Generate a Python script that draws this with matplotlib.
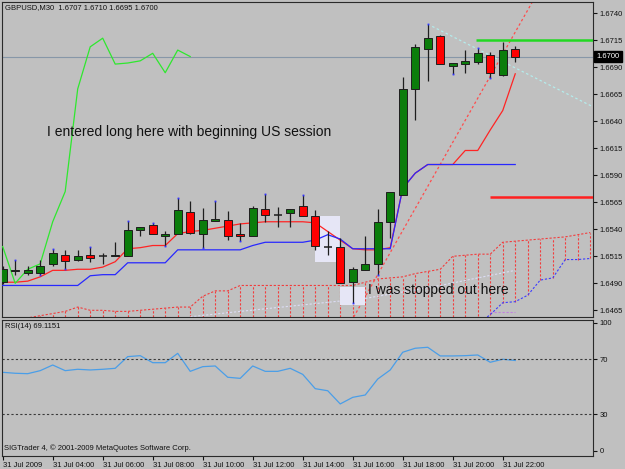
import matplotlib
matplotlib.use("Agg")
import matplotlib.pyplot as plt
from matplotlib.patches import Rectangle

plt.rcParams['font.family'] = ['Liberation Sans', 'DejaVu Sans']

W, H = 625, 469
BG = '#c0c0c0'

# GBPUSD M30, 31 Jul 2009, bar 0 = 02:00
opens = [1.6491, 1.6501, 1.6500, 1.6500, 1.6508, 1.6516, 1.6512, 1.6516, 1.6515, 1.6515,
         1.6515, 1.6539, 1.6544, 1.6534, 1.6536, 1.6556, 1.6536, 1.6548, 1.6549, 1.6536,
         1.6534, 1.6559, 1.6553, 1.6555, 1.6562, 1.6552, 1.6524, 1.6524, 1.6491, 1.6502,
         1.6508, 1.6547, 1.6572, 1.6670, 1.6707, 1.6719, 1.6691, 1.6693, 1.6695, 1.6701,
         1.6683, 1.6707]
highs = [1.6506, 1.6512, 1.6506, 1.6512, 1.6522, 1.6521, 1.6521, 1.6524, 1.6518, 1.6528,
         1.6548, 1.6542, 1.6546, 1.6538, 1.6569, 1.6566, 1.6560, 1.6566, 1.6557, 1.6546,
         1.6562, 1.6573, 1.6561, 1.6559, 1.6572, 1.6558, 1.6538, 1.6532, 1.6505, 1.6534,
         1.6559, 1.6575, 1.6681, 1.6712, 1.6730, 1.6720, 1.6694, 1.6706, 1.6708, 1.6704,
         1.6713, 1.6710]
lows = [1.6489, 1.6498, 1.6498, 1.6498, 1.6506, 1.6503, 1.6511, 1.6510, 1.6508, 1.6515,
        1.6515, 1.6534, 1.6536, 1.6525, 1.6536, 1.6536, 1.6523, 1.6548, 1.6530, 1.6529,
        1.6534, 1.6547, 1.6542, 1.6542, 1.6552, 1.6521, 1.6516, 1.6490, 1.6472, 1.6502,
        1.6498, 1.6532, 1.6572, 1.6641, 1.6677, 1.6693, 1.6684, 1.6685, 1.6693, 1.6680,
        1.6682, 1.6695]
closes = [1.6503, 1.6502, 1.6502, 1.6506, 1.6518, 1.6511, 1.6515, 1.6513, 1.6515, 1.6516,
          1.6539, 1.6542, 1.6536, 1.6536, 1.6558, 1.6537, 1.6549, 1.6550, 1.6534, 1.6534,
          1.6560, 1.6553, 1.6553, 1.6559, 1.6552, 1.6525, 1.6524, 1.6490, 1.6503, 1.6508,
          1.6547, 1.6575, 1.6670, 1.6709, 1.6717, 1.6693, 1.6694, 1.6696, 1.6703, 1.6685,
          1.6706, 1.6700]

tenkan = [1.6491, 1.6491, 1.6492, 1.6496, 1.6502, 1.6502, 1.6503, 1.6503, 1.6505, 1.6510,
          1.6522, 1.6523, 1.6525, 1.6525, 1.6536, 1.6538, 1.6539, 1.6541, 1.6543, 1.6545,
          1.6546, 1.6547, 1.6547, 1.6547, 1.6547, 1.6546, 1.6538, 1.6530, 1.6522, 1.6521,
          1.6521, 1.6523, 1.6578, 1.6592, 1.6600, 1.6600, 1.6600, 1.6613, 1.6613, 1.6632,
          1.6650, 1.6684]
kijun = [1.6488, 1.6488, 1.6488, 1.6488, 1.6488, 1.6488, 1.6488, 1.6497, 1.6498, 1.6498,
         1.6509, 1.6509, 1.6509, 1.6509, 1.6521, 1.6521, 1.6521, 1.6521, 1.6521, 1.6521,
         1.6525, 1.6528, 1.6528, 1.6528, 1.6528, 1.6530, 1.6535, 1.6531, 1.6522, 1.6522,
         1.6522, 1.6522, 1.6578, 1.6592, 1.6600, 1.6600, 1.6600, 1.6600, 1.6600, 1.6600,
         1.6600, 1.6600]

# cloud (already shifted 26 bars ahead), bars 0..47
span_a = [1.6452, 1.6455, 1.6458, 1.6460, 1.6462, 1.6464, 1.6468, 1.6465, 1.6465, 1.6464,
          1.6464, 1.6465, 1.6466, 1.6467, 1.6468, 1.6468, 1.6478, 1.6483, 1.6483, 1.6488,
          1.6488, 1.6488, 1.6488, 1.6488, 1.6488, 1.6488, 1.6488, 1.6488, 1.6488, 1.6491,
          1.6494, 1.6495, 1.6496, 1.6499, 1.6501, 1.6503, 1.6515, 1.6516, 1.6517, 1.6517,
          1.6528, 1.6529, 1.6530, 1.6531, 1.6532, 1.6533, 1.6535, 1.6537]
span_b_bars = [38, 39, 40, 41, 42, 43, 44, 45, 46, 47]
span_b = [1.6452, 1.6461, 1.6472, 1.6473, 1.6479, 1.6493, 1.6495, 1.6512, 1.6512, 1.6513]

slow_line_bars = [15, 19, 24, 29, 35, 41]
slow_line = [1.6459, 1.6464, 1.6470, 1.6476, 1.6488, 1.6502]

rsi = [60.5, 59.8, 59.5, 61.7, 65.8, 61.7, 62.7, 62.2, 62.7, 63.4,
       71.9, 72.6, 67.5, 67.5, 74.3, 61.2, 64.6, 65.1, 56.9, 56.1,
       65.1, 61.2, 61.2, 63.4, 59.0, 48.6, 47.1, 37.5, 42.3, 44.0,
       55.6, 62.2, 75.1, 78.0, 78.7, 72.4, 72.4, 72.6, 73.1, 67.8,
       70.0, 69.1]

dot_hi = [1, 4, 7, 10, 12, 14, 17, 21, 24, 34, 38]
dot_lo = [3, 5, 13, 16, 19, 28, 30, 36, 39]

price_ticks = [1.6465, 1.6490, 1.6515, 1.6540, 1.6565, 1.6590, 1.6615,
               1.6640, 1.6665, 1.6690, 1.6715, 1.6740]
time_ticks = [0, 4, 8, 12, 16, 20, 24, 28, 32, 36, 40]
time_labels = ['31 Jul 2009', '31 Jul 04:00', '31 Jul 06:00', '31 Jul 08:00',
               '31 Jul 10:00', '31 Jul 12:00', '31 Jul 14:00', '31 Jul 16:00',
               '31 Jul 18:00', '31 Jul 20:00', '31 Jul 22:00']

GREEN = '#0b7d0b'
RED = '#ff0000'
CLOUD = '#f23c3c'
SPINE = '#2a2a2a'

fig = plt.figure(figsize=(W / 100, H / 100), dpi=100, facecolor=BG)


def px_axes(x0, y0, x1, y1):
    return fig.add_axes([x0 / W, 1 - y1 / H, (x1 - x0) / W, (y1 - y0) / H])


ax = px_axes(2, 2, 593, 317)
rx = px_axes(2, 319.5, 593, 455.5)

xlim = (-0.056, 47.22)
ax.set_facecolor(BG)
ax.set_xlim(*xlim)
ax.set_ylim(1.64588, 1.67505)
bottom = ax.get_ylim()[0]
n = len(closes)

# ichimoku cloud hatching
for k, a in enumerate(span_a):
    b = span_b[span_b_bars.index(k)] if k in span_b_bars else bottom
    if a > bottom:
        ax.vlines(k, b, a, colors=CLOUD, linestyles=(0, (2, 1.6)), lw=0.8, zorder=1)
ax.plot(range(len(span_a)), span_a, color=CLOUD, ls=(0, (2, 1.6)), lw=0.8, zorder=1)
ax.plot(span_b_bars, span_b, color='#3c3cff', ls=(0, (2, 1.6)), lw=0.8, zorder=1)
ax.plot(slow_line_bars, slow_line, color='#dcdcf4', ls=(0, (2, 1.6)), lw=0.8, zorder=1)
ax.plot([39, 41], [1.6463, 1.6463], color='#c080e0', ls=(0, (2, 1.6)), lw=0.8, zorder=1)

# trend line drawn by the user (under the highlight boxes)
ax.axline((29.9, 1.6496), (39.5, 1.6692), color='#ff4c4c', ls=(0, (2, 2)), lw=0.9, zorder=1.5)

# highlight boxes
ax.add_patch(Rectangle((24.98, 1.6510), 2.0, 1.65523 - 1.6510, fc='#e6e6f6', ec='none', zorder=2))
ax.add_patch(Rectangle((26.98, 1.6470), 2.0, 1.64869 - 1.6470, fc='#e6e6f6', ec='none', zorder=2))

# price line and user lines
ax.axhline(1.6700, color='#8797a8', lw=0.8, zorder=2)
ax.plot([34, 47.3], [1.6730, 1.6653], color='#b4ecec', ls=(0, (2, 2)), lw=0.9, zorder=2)
ax.hlines(1.6715, 37.9, xlim[1], color='#22d822', lw=1.8, zorder=3)
ax.hlines(1.6570, 39.0, xlim[1], color='#ff2020', lw=1.8, zorder=3)

# tenkan, kijun, chikou
ax.plot(range(n), tenkan, color='#ff2424', lw=0.9, zorder=3)
ax.plot(range(n), kijun, color='#2828ff', lw=0.9, zorder=3)
shift = 26
ax.plot([k - shift for k in range(shift - 1, n)], closes[shift - 1:], color='#2ee82e', lw=0.9, zorder=3)

# candles
for k in range(n):
    o, h, l, c = opens[k], highs[k], lows[k], closes[k]
    ax.vlines(k, l, h, color='#1e1e1e', lw=0.9, zorder=4)
    lo, hi = min(o, c), max(o, c)
    if hi - lo < 0.00005:
        ax.hlines(o, k - 0.32, k + 0.32, color='#1e1e1e', lw=1.1, zorder=5)
    else:
        ax.add_patch(Rectangle((k - 0.32, lo), 0.64, hi - lo, fc=GREEN if c > o else RED,
                               ec='#1e1e1e', lw=0.7, zorder=5))
ax.plot(dot_hi, [highs[k] for k in dot_hi], 's', ms=1.3, color='#3030ff', mew=0, zorder=6)
ax.plot(dot_lo, [lows[k] for k in dot_lo], 's', ms=1.3, color='#3030ff', mew=0, zorder=6)

# annotations
ax.text(3.54, 1.6626, 'I entered long here with beginning US session', fontsize=10,
        color='#111111', va='baseline', zorder=7)
ax.text(29.25, 1.64801, 'I was stopped out here', fontsize=10, color='#111111',
        va='baseline', zorder=7)
ax.text(0.005, 0.982, 'GBPUSD,M30  1.6707 1.6710 1.6695 1.6700', transform=ax.transAxes,
        fontsize=5.5, va='center', ha='left', color='#111111')

ax.yaxis.tick_right()
ax.set_yticks(price_ticks)
ax.set_yticklabels(['%.4f' % p for p in price_ticks])
ax.set_xticks([])
ax.tick_params(axis='y', direction='out', length=3, width=0.8, pad=2, labelsize=5.5,
               colors='#111111')
ax.text(1.006, 1.6700, '1.6700', transform=ax.get_yaxis_transform(), color='white',
        fontsize=5.5, va='center', ha='left',
        bbox=dict(boxstyle='square,pad=0.3', fc='black', ec='black'), zorder=8, clip_on=False)
for s in ax.spines.values():
    s.set_color(SPINE)
    s.set_linewidth(0.8)

# RSI panel
rx.set_facecolor(BG)
rx.set_xlim(*xlim)
rx.set_ylim(0, 98.9)
rx.plot(range(n), rsi, color='#4a9ee8', lw=0.9)
rx.axhline(70, color='#3a3a3a', ls=(0, (2, 2)), lw=0.8)
rx.axhline(30, color='#3a3a3a', ls=(0, (2, 2)), lw=0.8)
rx.text(0.005, 0.947, 'RSI(14) 69.1151', transform=rx.transAxes, fontsize=5.5,
        va='center', ha='left', color='#111111')
rx.text(0.0034, 0.053, 'SIGTrader 4, \u00a9 2001-2009 MetaQuotes Software Corp.',
        transform=rx.transAxes, fontsize=5.5, va='center', ha='left', color='#111111')
rx.yaxis.tick_right()
rx.set_yticks([3.3, 30, 70, 96.4])
rx.set_yticklabels(['0', '30', '70', '100'])
rx.set_xticks(time_ticks)
rx.set_xticklabels(time_labels)
for lbl in rx.get_xticklabels():
    lbl.set_ha('left')
rx.tick_params(direction='out', length=3, width=0.8, pad=2, labelsize=5.5, colors='#111111')
for s in rx.spines.values():
    s.set_color(SPINE)
    s.set_linewidth(0.8)

fig.savefig('out.png', dpi=100, facecolor=BG)
